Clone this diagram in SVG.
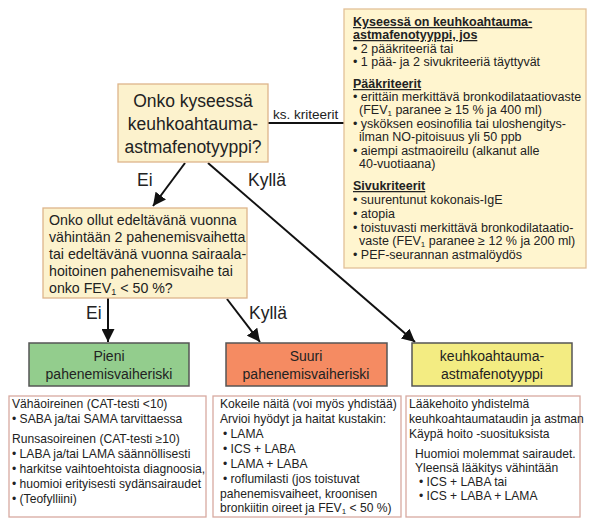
<svg xmlns="http://www.w3.org/2000/svg" width="590" height="521" viewBox="0 0 590 521">
<defs>
<marker id="ah" viewBox="0 0 10 10" refX="10" refY="5" markerWidth="13" markerHeight="13" markerUnits="userSpaceOnUse" orient="auto">
<path d="M0,0 L10,5 L0,10 Z" fill="#111"/>
</marker>
<style>
text{font-family:"Liberation Sans",Arial,sans-serif;fill:#222}
.q{fill:#FCF2CD;stroke:#DDB48A;stroke-width:1.3}
.crit{fill:#FFF5CF;stroke:#E2C098;stroke-width:1.3}
.res{stroke:#555;stroke-width:1.5}
.note{fill:#fff;stroke:#D8AAA0;stroke-width:1.3}
.c{stroke:#111;stroke-width:2;fill:none}
.t12{font-size:12.1px}
.t125{font-size:12.5px}
.h{font-weight:bold;text-decoration:underline}
.lbl{font-size:17.5px}
.sub{font-size:8px}
</style>
</defs>
<rect width="590" height="521" fill="#fff"/>

<g id="connectors">
<line class="c" x1="268" y1="123" x2="345" y2="123"/>
<text x="273" y="119" style="font-size:13.5px">ks. kriteerit</text>
<line class="c" x1="185" y1="163" x2="153" y2="206" marker-end="url(#ah)"/>
<text class="lbl" x="137" y="186">Ei</text>
<line class="c" x1="208" y1="163" x2="415" y2="342" marker-end="url(#ah)"/>
<text class="lbl" x="248" y="186">Kyllä</text>
<line class="c" x1="108" y1="298" x2="108" y2="342" marker-end="url(#ah)"/>
<text class="lbl" x="86" y="319">Ei</text>
<line class="c" x1="227" y1="299" x2="260" y2="342" marker-end="url(#ah)"/>
<text class="lbl" x="249" y="319">Kyllä</text>
</g>

<g id="criteria">
<rect class="crit" x="344" y="9" width="242" height="259"/>
<g class="t125">
<text class="h" x="353" y="26">Kyseessä on keuhkoahtauma-</text>
<text class="h" x="353" y="39">astmafenotyyppi, jos</text>
<text x="353" y="53">• 2 pääkriteeriä tai</text>
<text x="353" y="66">• 1 pää- ja 2 sivukriteeriä täyttyvät</text>
<text class="h" x="353" y="88">Pääkriteerit</text>
<text x="353" y="101">• erittäin merkittävä bronkodilataatiovaste</text>
<text x="359" y="114">(FEV<tspan class="sub" dy="2">1</tspan><tspan dy="-2"> paranee ≥ 15 % ja 400 ml)</tspan></text>
<text x="353" y="128">• ysköksen eosinofilia tai uloshengitys-</text>
<text x="359" y="141">ilman NO-pitoisuus yli 50 ppb</text>
<text x="353" y="155">• aiempi astmaoireilu (alkanut alle</text>
<text x="359" y="168">40-vuotiaana)</text>
<text class="h" x="353" y="190">Sivukriteerit</text>
<text x="353" y="204">• suurentunut kokonais-IgE</text>
<text x="353" y="218">• atopia</text>
<text x="353" y="232">• toistuvasti merkittävä bronkodilataatio-</text>
<text x="359" y="245">vaste  (FEV<tspan class="sub" dy="2">1</tspan><tspan dy="-2"> paranee ≥ 12 % ja 200 ml)</tspan></text>
<text x="353" y="259">• PEF-seurannan astmalöydös</text>
</g>
</g>

<g id="q1">
<rect class="q" x="118" y="84" width="150" height="78"/>
<g style="font-size:17.5px" text-anchor="middle">
<text x="193" y="107">Onko kyseessä</text>
<text x="193" y="130">keuhkoahtauma-</text>
<text x="193" y="153">astmafenotyyppi?</text>
</g>
</g>

<g id="q2">
<rect class="q" x="43" y="208" width="204" height="90"/>
<g style="font-size:14.2px">
<text x="49" y="225">Onko ollut edeltävänä vuonna</text>
<text x="49" y="242">vähintään 2 pahenemisvaihetta</text>
<text x="49" y="259">tai edeltävänä vuonna sairaala-</text>
<text x="49" y="276">hoitoinen pahenemisvaihe tai</text>
<text x="49" y="293">onko FEV<tspan style="font-size:9px" dy="2">1</tspan><tspan dy="-2"> &lt; 50 %?</tspan></text>
</g>
</g>

<g id="low">
<rect class="res" x="29" y="343" width="160" height="43" fill="#93CD8D"/>
<g style="font-size:14px" text-anchor="middle">
<text x="109" y="361">Pieni</text>
<text x="109" y="379">pahenemisvaiheriski</text>
</g>
</g>

<g id="high">
<rect class="res" x="226" y="343" width="161" height="43" fill="#F58B62"/>
<g style="font-size:14px" text-anchor="middle">
<text x="306" y="361">Suuri</text>
<text x="306" y="379">pahenemisvaiheriski</text>
</g>
</g>

<g id="aco">
<rect class="res" x="412" y="343" width="160" height="43" fill="#F3EC82"/>
<g style="font-size:14px" text-anchor="middle">
<text x="492" y="361">keuhkoahtauma-</text>
<text x="492" y="379">astmafenotyyppi</text>
</g>
</g>

<g id="low-note">
<rect class="note" x="9" y="396" width="197" height="121"/>
<g class="t12">
<text x="12" y="408">Vähäoireinen (CAT-testi &lt;10)</text>
<text x="12" y="423">• SABA ja/tai SAMA tarvittaessa</text>
<text x="12" y="443">Runsasoireinen (CAT-testi ≥10)</text>
<text x="12" y="458">• LABA ja/tai LAMA säännöllisesti</text>
<text x="12" y="473">• harkitse vaihtoehtoista diagnoosia,</text>
<text x="12" y="488">• huomioi erityisesti sydänsairaudet</text>
<text x="12" y="503">• (Teofylliini)</text>
</g>
</g>

<g id="high-note">
<rect class="note" x="213" y="396" width="188" height="121"/>
<g class="t12">
<text x="220" y="408">Kokeile näitä (voi myös yhdistää)</text>
<text x="220" y="423">Arvioi hyödyt ja haitat kustakin:</text>
<text x="223" y="438">• LAMA</text>
<text x="223" y="453">• ICS + LABA</text>
<text x="223" y="468">• LAMA + LABA</text>
<text x="223" y="483">• roflumilasti (jos toistuvat</text>
<text x="220" y="498">pahenemisvaiheet, kroonisen</text>
<text x="220" y="512">bronkiitin oireet ja FEV<tspan class="sub" dy="2">1</tspan><tspan dy="-2"> &lt; 50 %)</tspan></text>
</g>
</g>

<g id="aco-note">
<rect class="note" x="406" y="396" width="174" height="121"/>
<g class="t12">
<text x="409" y="408">Lääkehoito yhdistelmä</text>
<text x="409" y="423">keuhkoahtaumataudin ja astman</text>
<text x="409" y="438">Käypä hoito -suosituksista</text>
<text x="415" y="458">Huomioi molemmat sairaudet.</text>
<text x="415" y="472">Yleensä lääkitys vähintään</text>
<text x="419" y="486">• ICS + LABA tai</text>
<text x="419" y="500">• ICS + LABA + LAMA</text>
</g>
</g>
</svg>
